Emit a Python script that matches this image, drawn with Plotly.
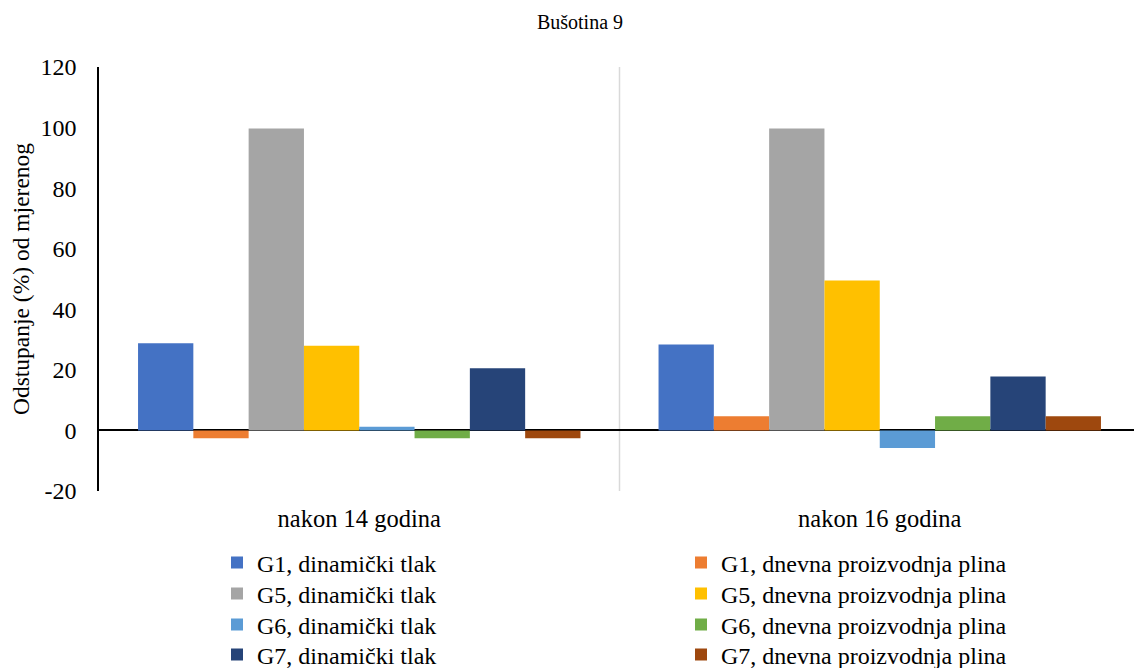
import plotly.graph_objects as go

categories = ["nakon 14 godina", "nakon 16 godina"]
series_names = [
    "G1, dinamički tlak", "G1, dnevna proizvodnja plina",
    "G5, dinamički tlak", "G5, dnevna proizvodnja plina",
    "G6, dinamički tlak", "G6, dnevna proizvodnja plina",
    "G7, dinamički tlak", "G7, dnevna proizvodnja plina",
]
g1_dyn = [28.8, 28.4]
g1_gas = [-2.6, 4.7]
g5_dyn = [99.7, 99.7]
g5_gas = [28.0, 49.5]
g6_dyn = [1.2, -5.8]
g6_gas = [-2.6, 4.7]
g7_dyn = [20.5, 17.8]
g7_gas = [-2.6, 4.7]
series_values = [g1_dyn, g1_gas, g5_dyn, g5_gas, g6_dyn, g6_gas, g7_dyn, g7_gas]
colors = ["#4472C4", "#ED7D31", "#A5A5A5", "#FFC000",
          "#5B9BD5", "#70AD47", "#264478", "#9E480E"]
y_tick_values = [-20, 0, 20, 40, 60, 80, 100, 120]
y_tick_labels = ["-20", "0", "20", "40", "60", "80", "100", "120"]

FONT = "Liberation Serif"

# page body has an 8px margin, so the figure is shifted by 8px
W, H = 1134, 660
L, T, PW, PH = 91, 59, 1041, 424
PLOT_LEFT_PAGE, PLOT_BOTTOM_PAGE = 99, 491

# legend layout: two columns x four rows, each entry its own legend box
col_x_page = [217, 681]
row_center_page = [563, 594, 625, 655]

fig = go.Figure()
legend_defs = {}
for i, (name, vals, col) in enumerate(zip(series_names, series_values, colors)):
    key = "legend" if i == 0 else f"legend{i + 1}"
    fig.add_trace(go.Bar(
        x=categories, y=vals, name=name,
        marker=dict(color=col, line=dict(width=0)),
        legend=key,
    ))
    r, c = divmod(i, 2)
    legend_defs[key] = dict(
        x=(col_x_page[c] - PLOT_LEFT_PAGE) / PW, xanchor="left",
        y=(PLOT_BOTTOM_PAGE - row_center_page[r]) / PH, yanchor="middle",
        orientation="v", itemwidth=30,
        font=dict(family=FONT, size=24, color="black"),
        bgcolor="rgba(0,0,0,0)",
    )

fig.update_layout(
    width=W, height=H,
    margin=dict(l=L, r=W - L - PW, t=T, b=H - T - PH, pad=0, autoexpand=False),
    paper_bgcolor="white", plot_bgcolor="white",
    barmode="group", bargap=0.15, bargroupgap=0,
    font=dict(family=FONT, size=22, color="black"),
    title=dict(text="Bušotina 9", x=572 / W, xref="container", xanchor="center",
               y=1 - 14 / H, yref="container", yanchor="middle",
               font=dict(family=FONT, size=20, color="black")),
    showlegend=True,
    **legend_defs,
)

fig.update_yaxes(
    range=[-20, 120], tickvals=y_tick_values, ticktext=y_tick_labels,
    showgrid=False,
    zeroline=True, zerolinecolor="black", zerolinewidth=2,
    showline=True, linecolor="black", linewidth=1.5,
    ticks="", ticklabelstandoff=16,
    tickfont=dict(family=FONT, size=24, color="black"),
    title=dict(text="Odstupanje (%) od mjerenog", standoff=6,
               font=dict(family=FONT, size=23.5, color="black")),
)
fig.update_xaxes(
    showgrid=False, showline=False, zeroline=False, ticks="",
    ticklabelstandoff=10,
    tickfont=dict(family=FONT, size=24.5, color="black"),
)

fig.add_shape(type="line", xref="x", yref="paper", x0=0.5, x1=0.5, y0=0, y1=1,
              line=dict(color="#D9D9D9", width=1.5), layer="below")

fig.write_html("out.html")
